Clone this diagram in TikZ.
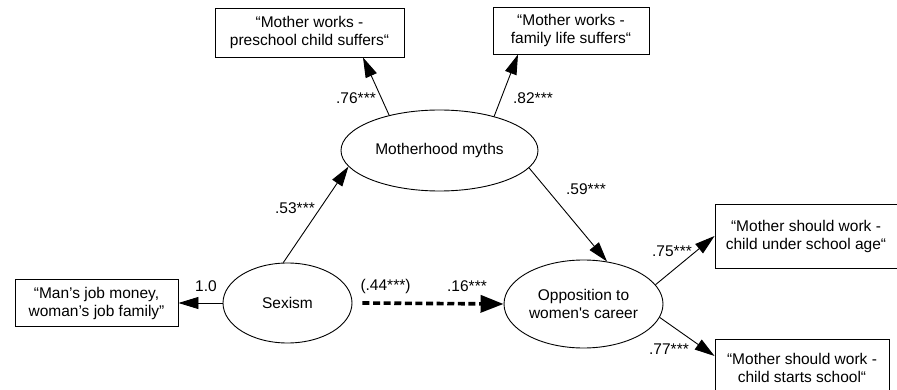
\documentclass[tikz,border=0pt]{standalone}
\usepackage{fontspec}
\newfontfamily\lsans{Liberation Sans}
\usetikzlibrary{shapes.geometric,arrows.meta}
\begin{document}
\begin{tikzpicture}[x=1pt,y=-1pt,
  font=\lsans\fontsize{15.5}{18}\selectfont,
  box/.style={draw, line width=0.9pt, inner sep=0pt, align=center},
  lat/.style={draw, ellipse, line width=0.9pt, inner sep=0pt, align=center},
  path/.style={line width=0.9pt, -{Triangle[length=20pt,width=12pt]}},
  dpath/.style={line width=3.6pt, dash pattern=on 7pt off 3.6pt, -{Triangle[length=23pt,width=17pt]}},
  lbl/.style={inner sep=0pt}]
\useasboundingbox (0,0) rectangle (897,390);
% indicator boxes
\node[box, minimum width=189pt, minimum height=49pt] (b1) at (309.5,32.5) {“Mother works -\\preschool child suffers“};
\node[box, minimum width=156pt, minimum height=47pt] (b2) at (571,30.5) {“Mother works -\\family life suffers“};
\node[box, minimum width=163pt, minimum height=47pt] (man) at (96.5,303) {“Man’s job money,\\woman’s job family”};
\node[box, minimum width=182pt, minimum height=64pt] (b3) at (806,236) {“Mother should work -\\child under school age“};
\node[box, minimum width=174pt, minimum height=58pt] (b4) at (802,368) {“Mother should work -\\child starts school“};
% latent variables
\node[lat, minimum width=197pt, minimum height=81pt] (mm) at (439.5,150.5) {Motherhood myths};
\node[lat, minimum width=129pt, minimum height=80pt] (sx) at (287.5,303) {Sexism};
\node[lat, minimum width=159pt, minimum height=88pt] (opp) at (583.5,304) {Opposition to\\women's career};
% paths
\draw[path] (mm.145) -- ([xshift=53.5pt]b1.south);
\draw[path] (mm.32) -- ([xshift=-53pt]b2.south);
\draw[path] (sx.96) -- (mm.190);
\draw[path] (mm.349) -- (opp.61);
\draw[path] (sx.west) -- (man.east);
\draw[dpath] ([xshift=10pt]sx.east) -- (opp.west);
\draw[path] (opp.15) -- (b3.west);
\draw[path] (opp.350) -- ([yshift=12pt]b4.west);
% coefficients
\node[lbl] (l76) at (356,98) {.76***};
\node[lbl] (l82) at (533,98) {.82***};
\node[lbl] (l53) at (295,208) {.53***};
\node[lbl] (l59) at (586,189) {.59***};
\node[lbl] (l10) at (206,286) {1.0};
\node[lbl] (l44) at (385.5,286) {(.44***)};
\node[lbl] (l16) at (467,286) {.16***};
\node[lbl] (l75) at (672,251) {.75***};
\node[lbl] (l77) at (669,349) {.77***};
\end{tikzpicture}
\end{document}
